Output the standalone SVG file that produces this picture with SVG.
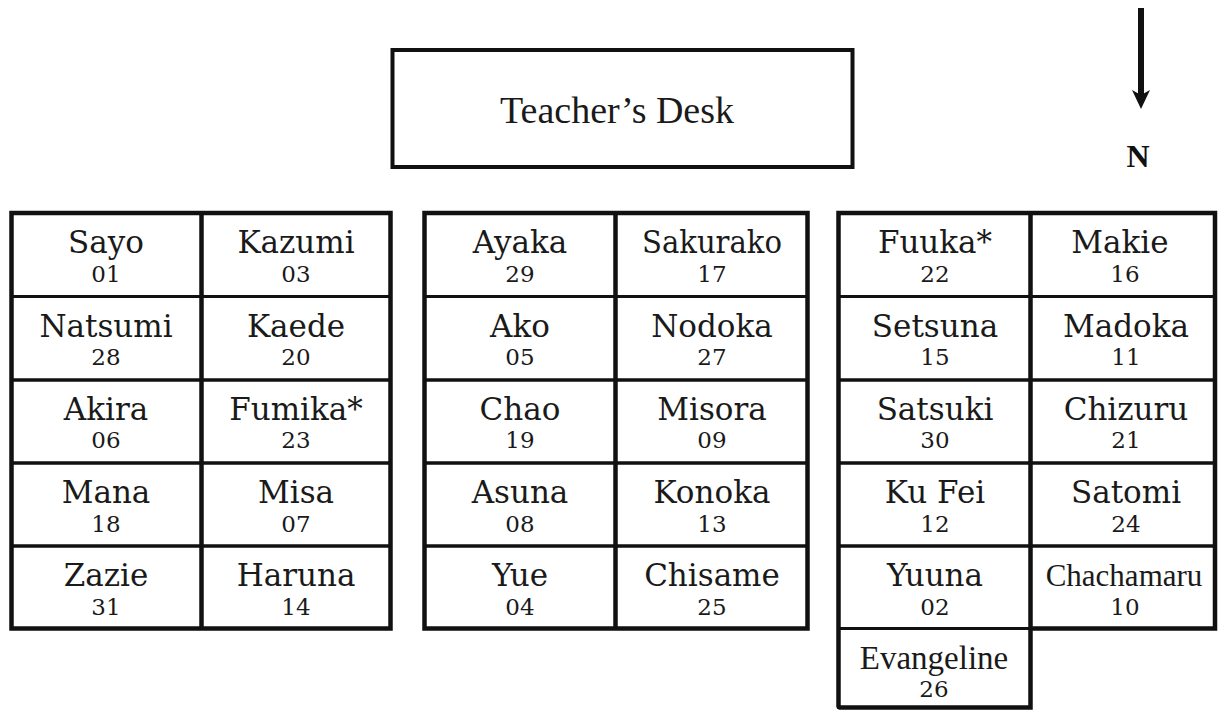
<svg xmlns="http://www.w3.org/2000/svg" width="1218" height="712" viewBox="0 0 1218 712">
<style>
.bg{fill:#fff}
.seat{fill:none;stroke:#111;stroke-width:3}
.outer{fill:none;stroke:#111;stroke-width:4.5}
.name{font-family:"DejaVu Serif","Liberation Serif",serif;font-size:31px;fill:#1a1a1a;text-anchor:middle}
.narrow{font-family:"Liberation Serif","DejaVu Serif",serif;font-size:31px}
.num{font-family:"DejaVu Serif","Liberation Serif",serif;font-size:23px;fill:#1a1a1a;text-anchor:middle}
.desk{font-family:"Liberation Serif","DejaVu Serif",serif;font-size:38px;fill:#1a1a1a;text-anchor:middle}
.n{font-family:"Liberation Serif",serif;font-size:32px;font-weight:bold;fill:#111;text-anchor:middle}
</style>
<rect class="bg" x="0" y="0" width="1218" height="712"/>

<g id="connectors">
  <g id="north-arrow">
    <rect x="1138" y="8" width="6" height="88" fill="#111"/>
    <path d="M1141,109 L1132,90 L1141,95 L1150,90 Z" fill="#111"/>
  </g>
</g>

<g id="north-label"><text class="n" x="1138" y="167">N</text></g>

<g id="teachers-desk">
  <rect x="392.5" y="50" width="460" height="117" fill="none" stroke="#111" stroke-width="4"/>
  <text class="desk" x="617" y="123">Teacher’s Desk</text>
</g>

<!-- Left block -->
<g id="block-left">
  <g id="seat-sayo"><rect class="seat" x="11.5" y="213" width="190" height="83.5"/><text class="name" x="106" y="253">Sayo</text><text class="num" x="106" y="282">01</text></g>
  <g id="seat-kazumi"><rect class="seat" x="201.5" y="213" width="189" height="83.5"/><text class="name" x="296" y="253">Kazumi</text><text class="num" x="296" y="282">03</text></g>
  <g id="seat-natsumi"><rect class="seat" x="11.5" y="296.5" width="190" height="83.5"/><text class="name" x="106" y="337">Natsumi</text><text class="num" x="106" y="365">28</text></g>
  <g id="seat-kaede"><rect class="seat" x="201.5" y="296.5" width="189" height="83.5"/><text class="name" x="296" y="337">Kaede</text><text class="num" x="296" y="365">20</text></g>
  <g id="seat-akira"><rect class="seat" x="11.5" y="380" width="190" height="83"/><text class="name" x="106" y="420">Akira</text><text class="num" x="106" y="448">06</text></g>
  <g id="seat-fumika"><rect class="seat" x="201.5" y="380" width="189" height="83"/><text class="name" x="296" y="420">Fumika*</text><text class="num" x="296" y="448">23</text></g>
  <g id="seat-mana"><rect class="seat" x="11.5" y="463" width="190" height="83"/><text class="name" x="106" y="503">Mana</text><text class="num" x="106" y="532">18</text></g>
  <g id="seat-misa"><rect class="seat" x="201.5" y="463" width="189" height="83"/><text class="name" x="296" y="503">Misa</text><text class="num" x="296" y="532">07</text></g>
  <g id="seat-zazie"><rect class="seat" x="11.5" y="546" width="190" height="82.5"/><text class="name" x="106" y="586">Zazie</text><text class="num" x="106" y="615">31</text></g>
  <g id="seat-haruna"><rect class="seat" x="201.5" y="546" width="189" height="82.5"/><text class="name" x="296" y="586">Haruna</text><text class="num" x="296" y="615">14</text></g>
  <rect class="outer" x="11.5" y="213" width="379" height="415.5"/>
  <line x1="201.5" y1="213" x2="201.5" y2="628.5" stroke="#111" stroke-width="4.5"/>
</g>

<!-- Middle block -->
<g id="block-middle">
  <g id="seat-ayaka"><rect class="seat" x="424.5" y="213" width="191" height="83.5"/><text class="name" x="520" y="253">Ayaka</text><text class="num" x="520" y="282">29</text></g>
  <g id="seat-sakurako"><rect class="seat" x="615.5" y="213" width="192" height="83.5"/><text class="name" x="712" y="253" textLength="140" lengthAdjust="spacingAndGlyphs">Sakurako</text><text class="num" x="712" y="282">17</text></g>
  <g id="seat-ako"><rect class="seat" x="424.5" y="296.5" width="191" height="83.5"/><text class="name" x="520" y="337">Ako</text><text class="num" x="520" y="365">05</text></g>
  <g id="seat-nodoka"><rect class="seat" x="615.5" y="296.5" width="192" height="83.5"/><text class="name" x="712" y="337">Nodoka</text><text class="num" x="712" y="365">27</text></g>
  <g id="seat-chao"><rect class="seat" x="424.5" y="380" width="191" height="83"/><text class="name" x="520" y="420">Chao</text><text class="num" x="520" y="448">19</text></g>
  <g id="seat-misora"><rect class="seat" x="615.5" y="380" width="192" height="83"/><text class="name" x="712" y="420">Misora</text><text class="num" x="712" y="448">09</text></g>
  <g id="seat-asuna"><rect class="seat" x="424.5" y="463" width="191" height="83"/><text class="name" x="520" y="503">Asuna</text><text class="num" x="520" y="532">08</text></g>
  <g id="seat-konoka"><rect class="seat" x="615.5" y="463" width="192" height="83"/><text class="name" x="712" y="503">Konoka</text><text class="num" x="712" y="532">13</text></g>
  <g id="seat-yue"><rect class="seat" x="424.5" y="546" width="191" height="82.5"/><text class="name" x="520" y="586">Yue</text><text class="num" x="520" y="615">04</text></g>
  <g id="seat-chisame"><rect class="seat" x="615.5" y="546" width="192" height="82.5"/><text class="name" x="712" y="586">Chisame</text><text class="num" x="712" y="615">25</text></g>
  <rect class="outer" x="424.5" y="213" width="383" height="415.5"/>
  <line x1="615.5" y1="213" x2="615.5" y2="628.5" stroke="#111" stroke-width="4.5"/>
</g>

<!-- Right block -->
<g id="block-right">
  <g id="seat-fuuka"><rect class="seat" x="838.5" y="213" width="192" height="83.5"/><text class="name" x="935" y="253">Fuuka*</text><text class="num" x="935" y="282">22</text></g>
  <g id="seat-makie"><rect class="seat" x="1030.5" y="213" width="184.5" height="83.5"/><text class="name" x="1120" y="253">Makie</text><text class="num" x="1125" y="282">16</text></g>
  <g id="seat-setsuna"><rect class="seat" x="838.5" y="296.5" width="192" height="83.5"/><text class="name" x="935" y="337">Setsuna</text><text class="num" x="935" y="365">15</text></g>
  <g id="seat-madoka"><rect class="seat" x="1030.5" y="296.5" width="184.5" height="83.5"/><text class="name" x="1126" y="337">Madoka</text><text class="num" x="1126" y="365">11</text></g>
  <g id="seat-satsuki"><rect class="seat" x="838.5" y="380" width="192" height="83"/><text class="name" x="935" y="420">Satsuki</text><text class="num" x="935" y="448">30</text></g>
  <g id="seat-chizuru"><rect class="seat" x="1030.5" y="380" width="184.5" height="83"/><text class="name" x="1126" y="420">Chizuru</text><text class="num" x="1126" y="448">21</text></g>
  <g id="seat-kufei"><rect class="seat" x="838.5" y="463" width="192" height="83"/><text class="name" x="935" y="503">Ku Fei</text><text class="num" x="935" y="532">12</text></g>
  <g id="seat-satomi"><rect class="seat" x="1030.5" y="463" width="184.5" height="83"/><text class="name" x="1126" y="503">Satomi</text><text class="num" x="1126" y="532">24</text></g>
  <g id="seat-yuuna"><rect class="seat" x="838.5" y="546" width="192" height="82.5"/><text class="name" x="935" y="586">Yuuna</text><text class="num" x="935" y="615">02</text></g>
  <g id="seat-chachamaru"><rect class="seat" x="1030.5" y="546" width="184.5" height="82.5"/><text class="name narrow" x="1124" y="586">Chachamaru</text><text class="num" x="1125" y="615">10</text></g>
  <g id="seat-evangeline"><rect class="seat" x="838.5" y="628.5" width="192" height="79"/><text class="name narrow" x="934" y="669" style="font-size:33px">Evangeline</text><text class="num" x="934" y="697">26</text></g>
  <path class="outer" d="M838.5,707.5 L838.5,213 L1215,213 L1215,628.5 L1030.5,628.5 M1030.5,213 L1030.5,707.5 L838.5,707.5"/>
</g>
</svg>
